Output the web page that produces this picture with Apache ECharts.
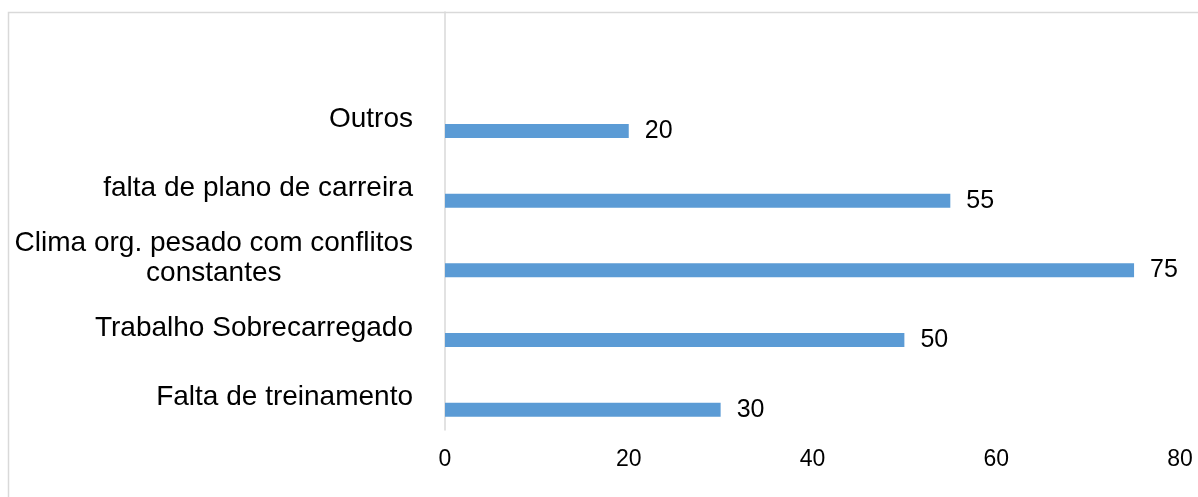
<!DOCTYPE html>
<html>
<head>
<meta charset="utf-8">
<script src="https://cdn.jsdelivr.net/npm/echarts@6/dist/echarts.min.js"></script>
<style>
html,body{margin:0;padding:0;background:#fff;}
#chart{width:1198px;height:497px;}
</style>
</head>
<body>
<div id="chart"></div>
<script>
// Categories bottom -> top (last one is an empty slot at the top of the plot)
const categories = ["Falta de treinamento", "Trabalho Sobrecarregado", "Clima org. pesado com conflitos\nconstantes", "falta de plano de carreira", "Outros", ""];
const values = [30, 50, 75, 55, 20, null];
const emptySeries = [null, null, null, null, null, null];
const xTicks = [0, 20, 40, 60, 80];

const chart = echarts.init(document.getElementById('chart'), null, {renderer: 'canvas'});
const FONT = '"Liberation Sans", Arial, sans-serif';

chart.setOption({
  animation: false,
  backgroundColor: '#fff',
  graphic: [{
    type: 'rect',
    shape: {x: 8.5, y: 12.5, width: 1300, height: 600},
    style: {fill: 'none', stroke: '#d9d9d9', lineWidth: 1.5},
    silent: true,
    z: 0
  }],
  grid: {left: 445, right: 18, top: 12, bottom: 67, containLabel: false},
  xAxis: {
    type: 'value',
    min: xTicks[0],
    max: xTicks[xTicks.length - 1],
    interval: 20,
    axisLine: {show: false},
    axisTick: {show: false},
    splitLine: {show: false},
    axisLabel: {color: '#000', fontFamily: FONT, fontSize: 23, margin: 18}
  },
  yAxis: {
    type: 'category',
    data: categories,
    axisLine: {show: true, lineStyle: {color: '#d9d9d9', width: 1.5}},
    axisTick: {show: false},
    splitLine: {show: false},
    axisLabel: {
      color: '#000', fontFamily: FONT, fontSize: 28, lineHeight: 30, margin: 32,
      align: 'right',
      padding: [5, 0, 0, 0],
      formatter: function (v) {
        return v.split('\n').map(function (s) { return '{c|' + s + '}'; }).join('\n');
      },
      rich: {c: {align: 'center', color: '#000', fontFamily: FONT, fontSize: 28, lineHeight: 30}}
    }
  },
  series: [
    {type: 'bar', data: emptySeries, barWidth: 14, barGap: '107%', itemStyle: {color: '#5B9BD5'}},
    {
      type: 'bar', data: values, barWidth: 14, barGap: '107%',
      itemStyle: {color: '#5B9BD5'},
      label: {show: true, position: 'right', distance: 16, color: '#000', fontFamily: FONT, fontSize: 25}
    }
  ]
});
</script>
</body>
</html>
